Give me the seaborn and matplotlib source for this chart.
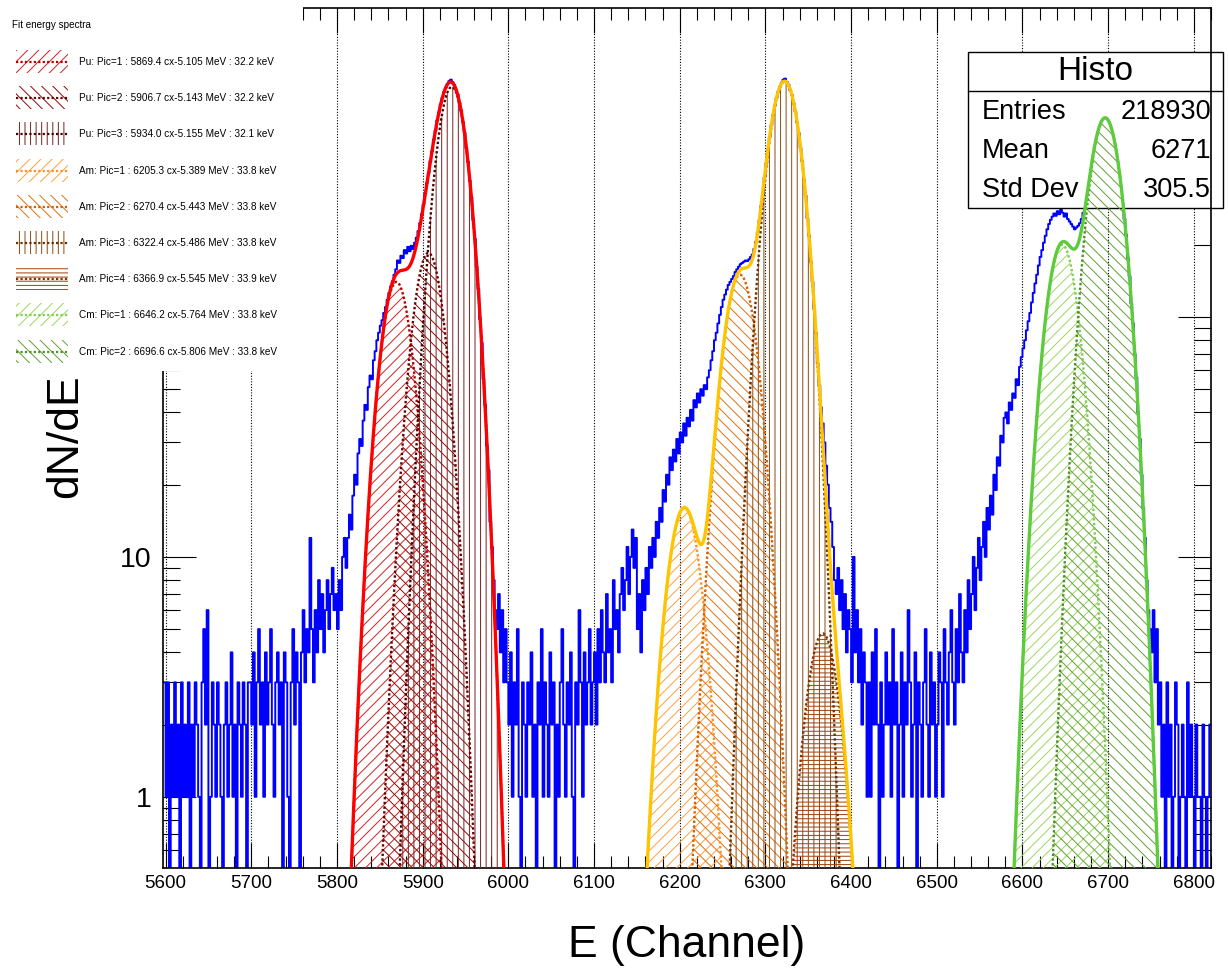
import numpy as np
import matplotlib
matplotlib.use("Agg")
import matplotlib.pyplot as plt
import matplotlib.ticker as mticker
import matplotlib.transforms as mtransforms
from matplotlib.patches import Rectangle
from matplotlib.lines import Line2D
import seaborn as sns

sns.set_style("ticks")
plt.rcParams["font.family"] = ["Liberation Sans", "DejaVu Sans"]
plt.rcParams["hatch.linewidth"] = 0.7
for k in ["text.color", "axes.labelcolor", "xtick.color", "ytick.color", "axes.edgecolor"]:
    plt.rcParams[k] = "black"

# ---------------- data ----------------
hist_start = 5598      # first bin edge (channel)
bin_width = 2          # channels per bin

counts_5598_5698 = [3, 1, 3, 0, 2, 1, 3, 1, 2, 0,
                    3, 1, 2, 1, 3, 0, 2, 1, 3, 2,
                    1, 0, 3, 5, 2, 6, 0, 1, 3, 2,
                    1, 3, 2, 1, 0, 2, 3, 1, 2, 4,
                    1, 2, 0, 3, 2, 1, 3, 2, 0, 3]
counts_5698_5798 = [3, 2, 4, 1, 3, 5, 2, 3, 1, 4,
                    2, 3, 5, 2, 1, 3, 4, 2, 3, 0,
                    4, 3, 1, 0, 3, 5, 2, 4, 3, 0,
                    4, 6, 3, 5, 4, 12, 5, 3, 6, 4,
                    8, 5, 7, 4, 6, 8, 5, 7, 9, 6]
counts_pu = [7, 5, 8, 6, 10, 12, 9, 12, 15, 13,
             18, 22, 20, 27, 31, 29, 37, 43, 41, 51,
             57, 55, 66, 72, 80, 86, 92, 97, 104, 110,
             118, 126, 134, 141, 150, 158, 172, 168, 180, 176,
             190, 184, 196, 188, 198, 192, 204, 214, 228, 246,
             268, 294, 326, 362, 398, 446, 490, 548, 598, 660,
             712, 770, 818, 868, 902, 936, 962, 975, 952, 928,
             884, 846, 780, 726, 650, 586, 506, 444, 370, 316,
             254, 212, 162, 131, 98, 78, 55, 43, 29, 23,
             14, 11, 8, 6, 5, 7, 4, 6, 3, 5,
             3]
counts_6000_6150 = [2, 4, 1, 3, 2, 5, 1, 0, 3, 2,
                    1, 3, 2, 4, 1, 2, 0, 3, 2, 5,
                    1, 3, 2, 1, 4, 2, 3, 0, 2, 1,
                    3, 5, 2, 1, 3, 2, 4, 1, 0, 3,
                    2, 6, 3, 1, 4, 2, 3, 5, 2, 3,
                    4, 2, 5, 3, 6, 4, 3, 7, 4, 5,
                    3, 8, 5, 6, 4, 7, 9, 6, 8, 11,
                    7, 10, 13, 9, 12]
counts_am = [5, 7, 4, 8, 6, 9, 7, 11, 9, 12,
             10, 14, 12, 16, 14, 19, 17, 22, 20, 26,
             23, 28, 25, 31, 27, 33, 30, 36, 32, 38,
             35, 41, 37, 45, 42, 48, 44, 50, 47, 52,
             50, 56, 60, 66, 72, 80, 86, 94, 102, 110,
             118, 124, 130, 136, 140, 144, 148, 154, 158, 162,
             166, 168, 170, 172, 171, 174, 178, 182, 192, 206,
             226, 252, 290, 330, 382, 436, 500, 562, 630, 694,
             760, 818, 868, 912, 948, 975, 985, 955, 930, 880,
             842, 776, 720, 646, 584, 506, 446, 372, 320, 258,
             218, 170, 140, 108, 86, 64, 52, 42, 36, 30,
             24, 20, 16, 14, 11, 8, 7, 9, 6, 8,
             5, 7, 4, 6, 5, 3, 10, 4, 6, 3,
             5, 2, 4, 3, 1]
counts_6420_6580 = [3, 1, 4, 2, 5, 2, 0, 3, 1, 2,
                    4, 2, 3, 1, 5, 2, 3, 0, 2, 4,
                    1, 3, 2, 6, 3, 1, 2, 4, 0, 3,
                    2, 1, 3, 5, 2, 1, 4, 2, 3, 1,
                    2, 4, 3, 1, 5, 3, 2, 4, 6, 3,
                    2, 5, 3, 7, 4, 3, 6, 4, 8, 5,
                    7, 10, 6, 9, 12, 8, 11, 14, 10, 16,
                    13, 18, 15, 22, 19, 26, 24, 32, 30, 38]
counts_cm = [40, 36, 44, 41, 48, 46, 55, 52, 62, 68,
             74, 80, 88, 96, 104, 115, 126, 138, 150, 164,
             178, 190, 204, 218, 232, 244, 254, 262, 270, 264,
             276, 268, 280, 272, 262, 270, 256, 250, 244, 238,
             232, 236, 240, 246, 256, 272, 294, 326, 360, 404,
             446, 494, 530, 578, 606, 646, 658, 680, 672, 664,
             656, 620, 594, 544, 508, 450, 408, 350, 310, 256,
             220, 176, 148, 114, 94, 70, 56, 40, 31, 22,
             16, 12, 8, 6, 5, 4, 6, 3, 5, 2]
counts_6760_6820 = [3, 1, 2, 0, 3, 1, 2, 0, 1, 3,
                    2, 0, 1, 2, 1, 0, 3, 1, 2, 1,
                    0, 2, 1, 1, 0, 2, 1, 0, 1, 2]

peak_group = ["Pu", "Pu", "Pu", "Am", "Am", "Am", "Am", "Cm", "Cm"]
peak_amp = [140, 185, 910, 16, 150, 960, 4.8, 200, 675]
peak_mean = [5869.4, 5906.7, 5934.0, 6205.3, 6270.4, 6322.4, 6366.9, 6646.2, 6696.6]
peak_sigma = [15.7, 15.7, 15.7, 16.5, 16.5, 16.5, 16.5, 16.2, 16.2]
peak_labels = [
    "Pu: Pic=1 : 5869.4 cx-5.105 MeV : 32.2 keV",
    "Pu: Pic=2 : 5906.7 cx-5.143 MeV : 32.2 keV",
    "Pu: Pic=3 : 5934.0 cx-5.155 MeV : 32.1 keV",
    "Am: Pic=1 : 6205.3 cx-5.389 MeV : 33.8 keV",
    "Am: Pic=2 : 6270.4 cx-5.443 MeV : 33.8 keV",
    "Am: Pic=3 : 6322.4 cx-5.486 MeV : 33.8 keV",
    "Am: Pic=4 : 6366.9 cx-5.545 MeV : 33.9 keV",
    "Cm: Pic=1 : 6646.2 cx-5.764 MeV : 33.8 keV",
    "Cm: Pic=2 : 6696.6 cx-5.806 MeV : 33.8 keV",
]
group_names = ["Pu", "Am", "Cm"]
group_ranges = [(5780, 6020), (6130, 6440), (6560, 6790)]

stats_labels = ["Entries", "Mean", "Std Dev"]
stats_values = ["218930", "6271", "305.5"]

# ---------------- styles ----------------
hatches = ["///", "\\\\\\", "|||", "///", "\\\\\\", "|||", "----", "///", "\\\\\\"]
hatch_colors = ["#d42020", "#8c0a0a", "#7a2020", "#ffa040", "#e07010",
                "#8a4a10", "#a0400a", "#9ad860", "#5fa030"]
line_colors = ["#b00000", "#6a0000", "#4a0000", "#ff9020", "#d06000",
               "#6a3000", "#8a3000", "#80cc50", "#4f8f25"]
total_colors = {"Pu": "#ff0000", "Am": "#ffc400", "Cm": "#5ccc3c"}

counts = np.array(counts_5598_5698 + counts_5698_5798 + counts_pu + counts_6000_6150
                  + counts_am + counts_6420_6580 + counts_cm + counts_6760_6820, dtype=float)
assert len(counts) == 611, len(counts)
edges = hist_start + bin_width * np.arange(len(counts) + 1)


def gauss(x, a, m, s):
    return a * np.exp(-0.5 * ((x - m) / s) ** 2)


W, H = 1228, 973
fig = plt.figure(figsize=(W / 100, H / 100), dpi=100)
ax = fig.add_axes([163 / W, 1 - 868 / H, (1211 - 163) / W, (868 - 8) / H])
ax.set_yscale("log")

# histogram (zero bins drawn down to the axis bottom)
step_x = edges
step_y = np.append(np.where(counts > 0, counts, 1e-3), max(counts[-1], 1e-3))
sns.lineplot(x=step_x, y=step_y, drawstyle="steps-post", color="#0000ff",
             lw=1.4, ax=ax, zorder=1.5, estimator=None)

# stats box (between histogram and fits)
pix = mtransforms.Affine2D().scale(1 / W, -1 / H).translate(0, 1) + fig.transFigure
ax.add_patch(Rectangle((968, 52), 1223 - 968, 208 - 52, transform=pix, facecolor="white",
                       edgecolor="black", lw=1.0, zorder=2.5, clip_on=False))
ax.add_line(Line2D([968, 1223], [91, 91], transform=pix, color="black", lw=1.0,
                   zorder=2.6, clip_on=False))
ax.text(1095, 72, "Histo", transform=pix, ha="center", va="center", fontsize=24,
        zorder=2.6, clip_on=False)
for i, (lab, val) in enumerate(zip(stats_labels, stats_values)):
    yy = 112 + 39 * i
    ax.text(982, yy, lab, transform=pix, ha="left", va="center", fontsize=19.5,
            zorder=2.6, clip_on=False)
    ax.text(1211, yy, val, transform=pix, ha="right", va="center", fontsize=19.5,
            zorder=2.6, clip_on=False)

# fit components and totals
for g, (lo, hi) in zip(group_names, group_ranges):
    xs = np.linspace(lo, hi, 900)
    total = np.zeros_like(xs)
    for i in range(len(peak_amp)):
        if peak_group[i] != g:
            continue
        comp = gauss(xs, peak_amp[i], peak_mean[i], peak_sigma[i])
        total += comp
        ax.fill_between(xs, 1e-3, np.maximum(comp, 1e-3), facecolor="none",
                        edgecolor=hatch_colors[i], hatch=hatches[i], linewidth=0, zorder=3)
        ax.plot(xs, np.maximum(comp, 1e-6), color=line_colors[i], lw=1.7,
                ls=(0, (1, 1)), zorder=3.5)
    sns.lineplot(x=xs, y=total, color=total_colors[g], lw=2.4, ax=ax, zorder=4,
                 estimator=None)

ax.set_xlim(5597, 6820)
ax.set_ylim(0.505, 1940)

# axes styling (ROOT like)
for sp in ax.spines.values():
    sp.set_linewidth(1.2)
    sp.set_color("black")
ax.xaxis.set_major_locator(mticker.MultipleLocator(100))
ax.xaxis.set_minor_locator(mticker.MultipleLocator(20))
ax.yaxis.set_major_locator(mticker.LogLocator(base=10, numticks=10))
ax.yaxis.set_minor_locator(mticker.LogLocator(base=10, subs=np.arange(2, 10), numticks=20))
# labels of 100 and 1000 sit under the legend box in the reference
ax.yaxis.set_major_formatter(mticker.FuncFormatter(lambda v, p: f"{v:g}" if v < 50 else ""))
ax.yaxis.set_minor_formatter(mticker.NullFormatter())
ax.tick_params(which="both", direction="in", top=True, right=True, width=0.8, color="black")
ax.tick_params(axis="x", which="major", length=18, labelsize=13.5, pad=5)
ax.tick_params(axis="x", which="minor", length=8.5)
ax.tick_params(axis="y", which="major", length=24, labelsize=20.5, pad=8)
ax.tick_params(axis="y", which="minor", length=12)
ax.grid(axis="x", which="major", color="black", lw=0.8, ls=(0, (1, 1.5)), zorder=0.5)
ax.set_axisbelow(True)
ax.set_xlabel("")
ax.set_ylabel("")

fig.text(687 / W, 1 - 945 / H, "E (Channel)", ha="center", va="center", fontsize=32)
fig.text(66 / W, 1 - 436 / H, "dN/dE", ha="center", va="center", fontsize=32, rotation=90)

# legend box (covers the upper-left corner)
leg = fig.add_axes([0, 1 - 371 / H, 303 / W, 371 / H])
leg.set_xlim(0, 303)
leg.set_ylim(371, 0)
leg.axis("off")
leg.add_patch(Rectangle((0, 0), 303, 371, facecolor="white", edgecolor="none", zorder=0))
leg.text(12, 25, "Fit energy spectra", fontsize=7.1, va="center", ha="left")
for i, lab in enumerate(peak_labels):
    y = 62 + 36.2 * i
    leg.add_patch(Rectangle((16, y - 12), 52, 23, facecolor="none", edgecolor=hatch_colors[i],
                            hatch=hatches[i], lw=0, zorder=1))
    leg.add_line(Line2D([16, 68], [y, y], color=line_colors[i], lw=1.6, ls=(0, (1, 1)), zorder=2))
    leg.text(79, y, lab, fontsize=7.2, va="center", ha="left")

fig.savefig("out.png", dpi=100)
